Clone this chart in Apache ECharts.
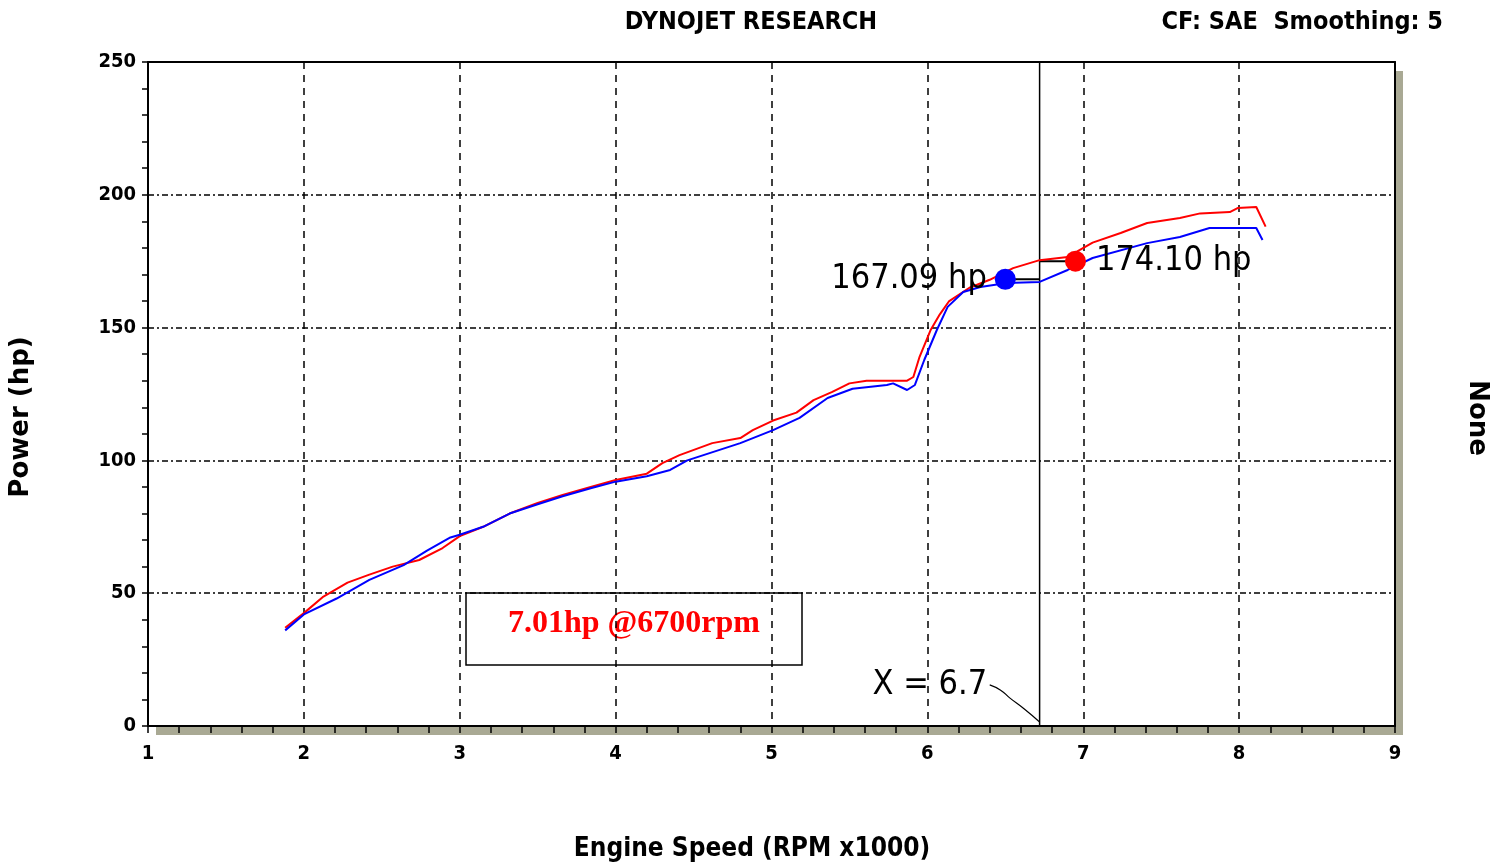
<!DOCTYPE html>
<html>
<head>
<meta charset="utf-8">
<script src="https://cdn.jsdelivr.net/npm/echarts@6/dist/echarts.min.js"></script>
<style>
html,body{margin:0;padding:0;background:#fff;overflow:hidden;}
#c{width:1507px;height:865px;}
</style>
</head>
<body>
<div id="c"></div>
<script>
// ---- data ----
const redX = [1.88, 2.0, 2.12, 2.28, 2.42, 2.57, 2.74, 2.89, 3.0, 3.15, 3.32, 3.5, 3.66, 3.84, 4.0, 4.2, 4.3, 4.41, 4.62, 4.8, 4.88, 5.01, 5.16, 5.27, 5.39, 5.5, 5.61, 5.87, 5.91, 5.95, 6.02, 6.08, 6.14, 6.27, 6.4, 6.55, 6.72, 6.9, 7.06, 7.24, 7.41, 7.62, 7.75, 7.94, 7.99, 8.11, 8.17];
const redY = [37, 42.5, 48.5, 54, 57, 60, 62.5, 67, 71.5, 75, 80, 84, 87, 90, 92.6, 95, 99, 102, 106.5, 108.4, 111.4, 115, 118, 122.7, 125.8, 129, 130, 130, 131.4, 139, 149, 155, 160, 165, 168, 172.4, 175.4, 176.6, 182, 185.6, 189.4, 191.3, 193, 193.5, 195, 195.4, 188];
const blueX = [1.88, 2.0, 2.21, 2.42, 2.64, 2.79, 2.94, 3.0, 3.15, 3.32, 3.5, 3.66, 3.84, 4.0, 4.2, 4.35, 4.46, 4.8, 5.01, 5.18, 5.36, 5.52, 5.74, 5.78, 5.87, 5.92, 5.98, 6.06, 6.13, 6.23, 6.34, 6.51, 6.72, 6.9, 7.06, 7.41, 7.62, 7.81, 8.11, 8.15];
const blueY = [36, 42, 48, 55, 60.6, 66, 71, 72, 75, 80, 83.5, 86.5, 89.5, 92, 94, 96.4, 100, 106.5, 111.4, 116, 123.5, 127, 128.4, 129, 126.5, 128.4, 137.8, 149, 157.8, 163.4, 165.3, 166.8, 167.2, 171.7, 176.2, 181.8, 184.1, 187.5, 187.5, 183];

const cursorX = 6.72;
const cursorLabel = 'X = 6.7';
const blueMarker = [6.5, 168.2];
const redMarker = [6.95, 175.0];
const blueMarkerLabel = '167.09 hp';
const redMarkerLabel = '174.10 hp';
const leaderX = [6.40, 6.47, 6.53, 6.62, 6.72];
const leaderY = [15.5, 13.5, 10.5, 6.5, 1.5];

const xTicks = [1, 2, 3, 4, 5, 6, 7, 8, 9];
const yTicks = [0, 50, 100, 150, 200, 250];

const titleText = 'DYNOJET RESEARCH';
const cfText = 'CF: SAE  Smoothing: 5';
const rightName = 'None';
const xName = 'Engine Speed (RPM x1000)';
const yName = 'Power (hp)';
const boxText = '7.01hp @6700rpm';

const zip = (a, b) => a.map((v, i) => [v, b[i]]);

const chart = echarts.init(document.getElementById('c'));
const axisFont = {fontFamily: 'DejaVu Sans Condensed', fontWeight: 'bold', fontSize: 20, color: '#000'};
const lblFont = {fontFamily: 'DejaVu Sans Condensed', fontSize: 34, color: '#000'};
const blackLine = {color: '#000', width: 2};

chart.setOption({
  animation: false,
  backgroundColor: '#fff',
  grid: {
    left: 148, right: 112, top: 62, bottom: 139, outerBoundsMode: 'none', containLabel: false,
    show: true, backgroundColor: '#fff', borderWidth: 0,
    shadowColor: '#a9a994', shadowBlur: 0, shadowOffsetX: 8, shadowOffsetY: 9
  },
  xAxis: [{
    type: 'value', min: xTicks[0], max: xTicks[xTicks.length - 1], interval: 1,
    axisLine: {lineStyle: blackLine},
    axisTick: {show: true, length: 7, lineStyle: {color: '#000', width: 1.5}},
    minorTick: {show: true, splitNumber: 5, length: 7, lineStyle: {color: '#000', width: 1.5}},
    axisLabel: Object.assign({margin: 18}, axisFont),
    splitLine: {show: true, lineStyle: {color: '#000', width: 1.5, type: [7, 6]}}
  }, {
    type: 'value', position: 'top', min: xTicks[0], max: xTicks[xTicks.length - 1], interval: 1,
    axisLine: {show: true, onZero: false, lineStyle: blackLine},
    axisTick: {show: false}, axisLabel: {show: false}, splitLine: {show: false}
  }],
  yAxis: [{
    type: 'value', min: yTicks[0], max: yTicks[yTicks.length - 1], interval: 50,
    axisLine: {lineStyle: blackLine},
    axisTick: {show: true, length: 6, lineStyle: {color: '#000', width: 1.5}},
    minorTick: {show: true, splitNumber: 5, length: 6, lineStyle: {color: '#000', width: 1.5}},
    axisLabel: Object.assign({margin: 12}, axisFont),
    splitLine: {show: true, lineStyle: {color: '#000', width: 1.5, type: [6, 3, 2, 3]}}
  }, {
    type: 'value', position: 'right', min: yTicks[0], max: yTicks[yTicks.length - 1], interval: 50,
    axisLine: {show: true, onZero: false, lineStyle: blackLine},
    axisTick: {show: false}, axisLabel: {show: false}, splitLine: {show: false}
  }],
  series: [
    {
      type: 'line', data: [[cursorX, yTicks[0]], [cursorX, yTicks[yTicks.length - 1]]],
      symbol: 'none', lineStyle: {color: '#000', width: 1.5}, z: 3, silent: true
    },
    {
      type: 'line', data: zip(leaderX, leaderY), smooth: true,
      symbol: 'none', lineStyle: {color: '#000', width: 1.2}, z: 3,
      markPoint: {
        symbol: 'circle', symbolSize: 1,
        data: [{coord: [leaderX[0], leaderY[0]], label: Object.assign({show: true, position: 'left', distance: 2, formatter: cursorLabel}, lblFont),
          itemStyle: {color: 'rgba(0,0,0,0)'}}]
      }
    },
    {
      type: 'line', data: [[blueMarker[0], blueMarker[1]], [cursorX, blueMarker[1]]],
      symbol: 'none', lineStyle: {color: '#000', width: 2}, z: 4
    },
    {
      type: 'line', data: [[cursorX, redMarker[1]], [redMarker[0], redMarker[1]]],
      symbol: 'none', lineStyle: {color: '#000', width: 2}, z: 4
    },
    {
      name: 'red', type: 'line', data: zip(redX, redY), symbol: 'none',
      lineStyle: {color: '#ff0000', width: 2}, z: 5
    },
    {
      name: 'blue', type: 'line', data: zip(blueX, blueY), symbol: 'none',
      lineStyle: {color: '#0000ff', width: 2}, z: 6
    },
    {
      type: 'scatter', symbolSize: 21, z: 7,
      data: [
        {value: blueMarker, itemStyle: {color: '#0000ff', opacity: 1},
         label: Object.assign({show: true, position: 'left', distance: 8, formatter: blueMarkerLabel}, lblFont)},
        {value: redMarker, itemStyle: {color: '#ff0000', opacity: 1},
         label: Object.assign({show: true, position: 'right', distance: 10, formatter: redMarkerLabel}, lblFont)}
      ]
    }
  ],
  graphic: [
    {type: 'text', x: 751, y: 22, z: 10,
     style: {text: titleText, font: 'bold 25px "DejaVu Sans Condensed"', fill: '#000', align: 'center', verticalAlign: 'middle'}},
    {type: 'text', x: 1443, y: 22, z: 10,
     style: {text: cfText, font: 'bold 25px "DejaVu Sans Condensed"', fill: '#000', align: 'right', verticalAlign: 'middle'}},
    {type: 'text', x: 1477, y: 418, rotation: -Math.PI / 2, z: 10,
     style: {text: rightName, font: 'bold 26px "DejaVu Sans"', fill: '#000', align: 'center', verticalAlign: 'middle'}},
    {type: 'text', x: 21, y: 417, rotation: Math.PI / 2, z: 10,
     style: {text: yName, font: 'bold 26px "DejaVu Sans"', fill: '#000', align: 'center', verticalAlign: 'middle'}},
    {type: 'text', x: 752, y: 849, z: 10,
     style: {text: xName, font: 'bold 26px "DejaVu Sans Condensed"', fill: '#000', align: 'center', verticalAlign: 'middle'}},
    {type: 'group', x: 466, y: 593, z: 20, children: [
      {type: 'rect', shape: {x: 0, y: 0, width: 336, height: 72},
       style: {fill: '#fff', stroke: '#000', lineWidth: 1.5}},
      {type: 'text', x: 168, y: 31,
       style: {text: boxText, font: 'bold 32px "Liberation Serif"', fill: '#ff0000', align: 'center', verticalAlign: 'middle'}}
    ]}
  ]
});
</script>
</body>
</html>
